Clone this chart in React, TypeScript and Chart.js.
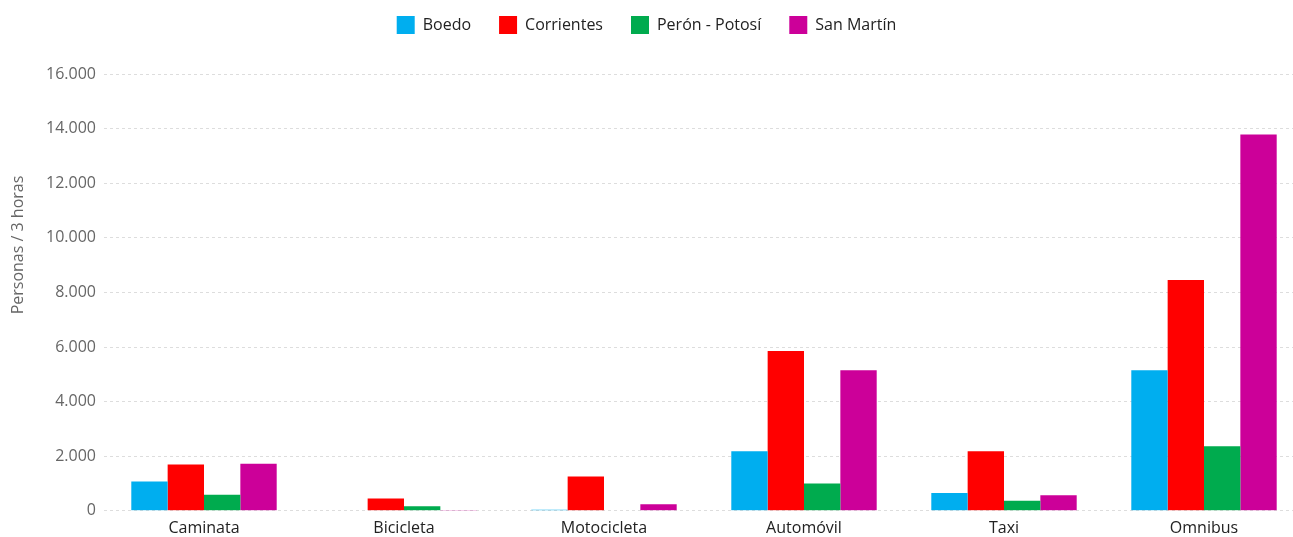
import React, { useEffect, useRef } from 'react';
import { Chart, registerables } from 'chart.js';

Chart.register(...registerables);

const categories = ['Caminata', 'Bicicleta', 'Motocicleta', 'Automóvil', 'Taxi', 'Omnibus'];
const seriesNames = ['Boedo', 'Corrientes', 'Perón - Potosí', 'San Martín'];
const boedo = [1075, 20, 40, 2180, 650, 5150];
const corrientes = [1700, 450, 1260, 5850, 2180, 8450];
const peronPotosi = [590, 170, 20, 1000, 367, 2360];
const sanMartin = [1725, 30, 240, 5150, 573, 13780];
const seriesColors = ['#00AEEF', '#FF0000', '#00AB4E', '#CC0099'];
const yAxisTitle = 'Personas / 3 horas';
const yMin = 0;
const yMax = 16000;
const yStep = 2000;

const FONT = '"Open Sans", sans-serif';

const formatThousands = (v: number) => String(Math.round(v)).replace(/\B(?=(\d{3})+(?!\d))/g, '.');

export default function App() {
  const ref = useRef<HTMLCanvasElement | null>(null);

  useEffect(() => {
    if (!ref.current) return;
    const values = [boedo, corrientes, peronPotosi, sanMartin];

    const legendSpacer = {
      id: 'legendSpacer',
      beforeInit(chart: any) {
        const legend = chart.legend;
        if (!legend) return;
        const origFit = legend.fit;
        legend.fit = function () {
          origFit.call(this);
          this.height += 30;
        };
      },
    };

    const yTitlePlugin = {
      id: 'yTitle',
      afterDraw(chart: any) {
        const ctx = chart.ctx;
        ctx.save();
        ctx.translate(18, 257);
        ctx.rotate(-Math.PI / 2);
        ctx.font = `16px ${FONT}`;
        ctx.fillStyle = '#666666';
        ctx.textAlign = 'center';
        ctx.textBaseline = 'middle';
        ctx.fillText(yAxisTitle, 0, 0);
        ctx.restore();
      },
    };

    const chart = new Chart(ref.current, {
      type: 'bar',
      data: {
        labels: categories.map((_, i) => i),
        datasets: seriesNames.map((name, i) => ({
          label: name,
          data: values[i],
          backgroundColor: seriesColors[i],
          borderWidth: 0,
          categoryPercentage: 0.727,
          barPercentage: 1,
        })),
      },
      options: {
        animation: false,
        responsive: false,
        maintainAspectRatio: false,
        layout: { padding: { left: 0, right: 0, top: 0, bottom: -9 } },
        plugins: {
          legend: {
            position: 'top',
            align: 'center',
            labels: {
              boxWidth: 18,
              boxHeight: 18,
              padding: 28,
              color: '#222222',
              font: { family: FONT, size: 16 },
            },
          },
          tooltip: { enabled: false },
        },
        scales: {
          x: {
            type: 'linear',
            min: -0.5,
            max: 5.445,
            offset: false,
            grid: { display: false, drawTicks: false },
            border: { display: false },
            ticks: {
              stepSize: 1,
              includeBounds: false,
              autoSkip: false,
              maxRotation: 0,
              padding: 8,
              color: '#222222',
              font: { family: FONT, size: 16 },
              callback: (v: any) => {
                const n = Number(v);
                return Number.isInteger(n) && categories[n] !== undefined ? categories[n] : '';
              },
            },
          },
          y: {
            min: yMin,
            max: yMax,
            afterFit: (scale: any) => {
              scale.width = 104;
            },
            grid: {
              color: '#dddddd',
              lineWidth: 1,
              drawTicks: false,
            },
            border: { display: false, dash: [3, 3] },
            ticks: {
              stepSize: yStep,
              padding: 8,
              color: '#666666',
              font: { family: FONT, size: 16 },
              callback: (v: any) => formatThousands(Number(v)),
            },
          },
        },
      },
      plugins: [legendSpacer, yTitlePlugin],
    } as any);

    return () => chart.destroy();
  }, []);

  return (
    <div style={{ position: 'fixed', left: 0, top: -12, width: 1293, height: 549 }}>
      <canvas ref={ref} width={1293} height={549} style={{ width: 1293, height: 549, display: 'block' }} />
    </div>
  );
}
